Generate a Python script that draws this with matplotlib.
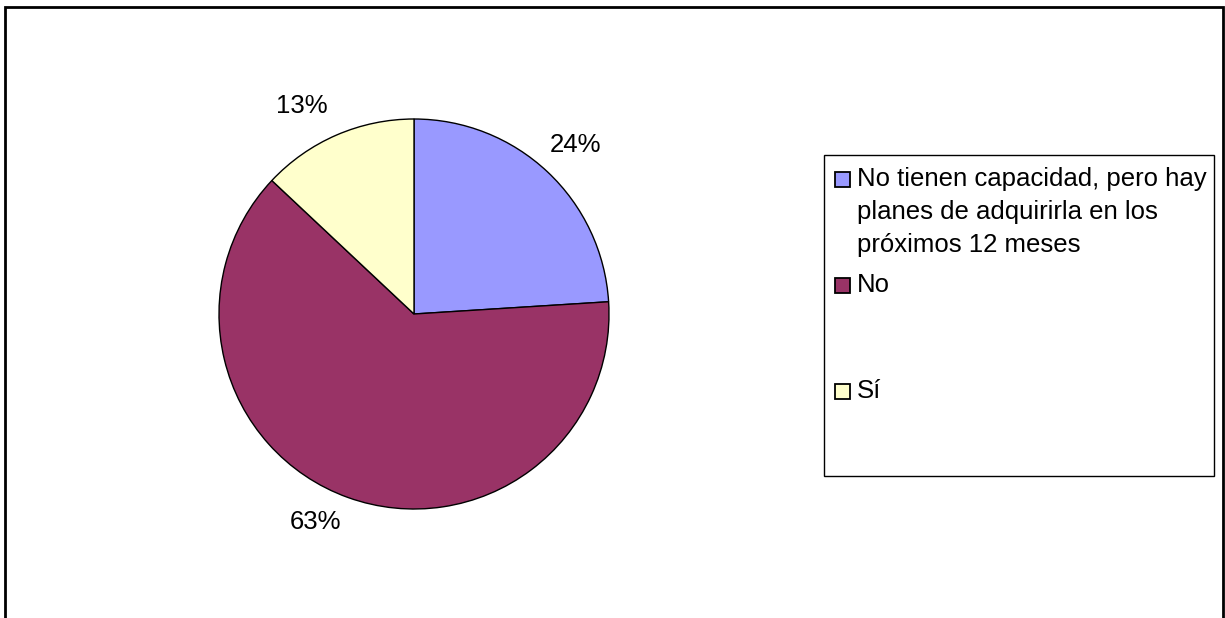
import textwrap
import numpy as np
import matplotlib.pyplot as plt
from matplotlib.patches import Rectangle

plt.rcParams['font.family'] = ['Liberation Sans', 'DejaVu Sans']

labels = ["No tienen capacidad, pero hay planes de adquirirla en los próximos 12 meses",
          "No", "Sí"]
values = [24, 63, 13]
colors = ["#9999FF", "#993366", "#FFFFCC"]
# label placement (distance in radii, angle nudge in degrees)
label_dist = [1.2, 1.18, 1.21]
label_nudge = [-0.6, -5.6, 4.9]

W, H = 1225, 618
fig = plt.figure(figsize=(W / 100, H / 100), dpi=100)

# outer chart frame
fig.patches.append(Rectangle((5 / W, -0.05), 1218 / W, 1.05 - 7 / H, transform=fig.transFigure,
                             fill=False, edgecolor="black", lw=2, clip_on=False))

# pie, center (414, 314) px, radius 195 px
cx, cy, r = 414, 314, 195
ax = fig.add_axes([(cx - r) / W, (H - cy - r) / H, 2 * r / W, 2 * r / H])
wedges, _ = ax.pie(values, colors=colors, startangle=90, counterclock=False, radius=1,
                   wedgeprops=dict(edgecolor="black", linewidth=1))
ax.set_xlim(-1, 1)
ax.set_ylim(-1, 1)
ax.set_aspect("auto")
ax.axis("off")

for w, v, d, n in zip(wedges, values, label_dist, label_nudge):
    ang = np.deg2rad((w.theta1 + w.theta2) / 2 + n)
    ax.text(d * np.cos(ang), d * np.sin(ang), f"{v}%", ha="center", va="center",
            fontsize=18.5, clip_on=False)

# legend box
lx0, ly0, lx1, ly1 = 824, 155, 1214, 476
fig.patches.append(Rectangle((lx0 / W, 1 - ly1 / H), (lx1 - lx0) / W, (ly1 - ly0) / H,
                             transform=fig.transFigure, fill=False, edgecolor="black", lw=1))
for i, (lab, c) in enumerate(zip(labels, colors)):
    base = ly0 + 31 + i * 106
    fig.patches.append(Rectangle((835 / W, 1 - (base + 1) / H), 15 / W, 15 / H,
                                 transform=fig.transFigure, facecolor=c, edgecolor="black", lw=1.3))
    for j, line in enumerate(textwrap.wrap(lab, 29)):
        fig.text(857 / W, 1 - (base + 33 * j) / H, line, ha="left", va="baseline",
                 fontsize=18.5)

fig.savefig("out.png", dpi=100, facecolor="white")
